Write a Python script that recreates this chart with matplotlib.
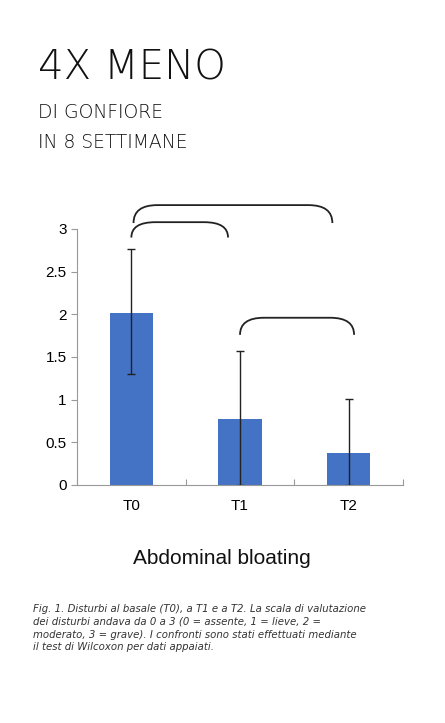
import matplotlib
matplotlib.use("Agg")
import matplotlib.pyplot as plt
from matplotlib.path import Path
from matplotlib.patches import PathPatch

categories = ["T0", "T1", "T2"]
means = [2.02, 0.77, 0.38]
err_up = [0.74, 0.80, 0.63]
err_down = [0.72, 0.77, 0.38]
yticks = [0, 0.5, 1, 1.5, 2, 2.5, 3]
ytick_labels = ["0", "0.5", "1", "1.5", "2", "2.5", "3"]
# brackets: (x start, x end, y ends, y top)
brackets = [(0.0, 0.89, 2.90, 3.08), (0.02, 1.85, 3.07, 3.28), (1.0, 2.05, 1.76, 1.96)]

W, H = 445, 723
fig = plt.figure(figsize=(W / 100, H / 100), dpi=100)
fig.patch.set_facecolor("white")

fig.text(38 / W, 1 - 68 / H, "4X MENO", fontsize=29, family="DejaVu Sans", weight="light",
         color="#111111", va="center")
fig.text(38 / W, 1 - 113 / H, "DI GONFIORE", fontsize=13.5, family="DejaVu Sans", weight="light",
         color="#111111", va="center")
fig.text(38 / W, 1 - 143 / H, "IN 8 SETTIMANE", fontsize=13.5, family="DejaVu Sans", weight="light",
         color="#111111", va="center")

ax = fig.add_axes([77 / W, (H - 485) / H, 326 / W, 256 / H])
x = list(range(len(categories)))
ax.bar(x, means, width=0.4, color="#4472C4")
ax.errorbar(x, means, yerr=[err_down, err_up], fmt="none", ecolor="#222222", elinewidth=1, capsize=3)
ax.set_xlim(-0.5, 2.5)
ax.set_ylim(0, 3)
ax.set_yticks(yticks)
ax.set_yticklabels(ytick_labels, family="Liberation Sans", fontsize=11)
ax.set_xticks([-0.5, 0.5, 1.5, 2.5], minor=False)
ax.set_xticklabels([])
ax.set_xticks(x, minor=True)
ax.set_xticklabels(categories, minor=True, family="Liberation Sans", fontsize=11)
ax.tick_params(axis="x", which="minor", length=0, pad=10)
ax.tick_params(axis="x", which="major", length=4, color="#999999", direction="in")
ax.tick_params(axis="y", length=4, color="#999999", direction="out")
for s in ["top", "right"]:
    ax.spines[s].set_visible(False)
for s in ["left", "bottom"]:
    ax.spines[s].set_color("#999999")

for x0, x1, yb, yt in brackets:
    r = 0.22
    verts = [(x0, yb), (x0, yt), (x0 + r, yt), (x1 - r, yt), (x1, yt), (x1, yb)]
    codes = [Path.MOVETO, Path.CURVE3, Path.CURVE3, Path.LINETO, Path.CURVE3, Path.CURVE3]
    ax.add_patch(PathPatch(Path(verts, codes), fill=False, lw=1.3, ec="#222222", clip_on=False))

fig.text(222 / W, 1 - 558 / H, "Abdominal bloating", fontsize=15, family="Liberation Sans",
         ha="center", va="center", color="#111111")

caption = ("Fig. 1. Disturbi al basale (T0), a T1 e a T2. La scala di valutazione\n"
           "dei disturbi andava da 0 a 3 (0 = assente, 1 = lieve, 2 =\n"
           "moderato, 3 = grave). I confronti sono stati effettuati mediante\n"
           "il test di Wilcoxon per dati appaiati.")
fig.text(33 / W, 1 - 604 / H, caption, fontsize=7.3, style="italic", family="DejaVu Sans",
         color="#333333", va="top", linespacing=1.35)

fig.savefig("out.png", dpi=100)
